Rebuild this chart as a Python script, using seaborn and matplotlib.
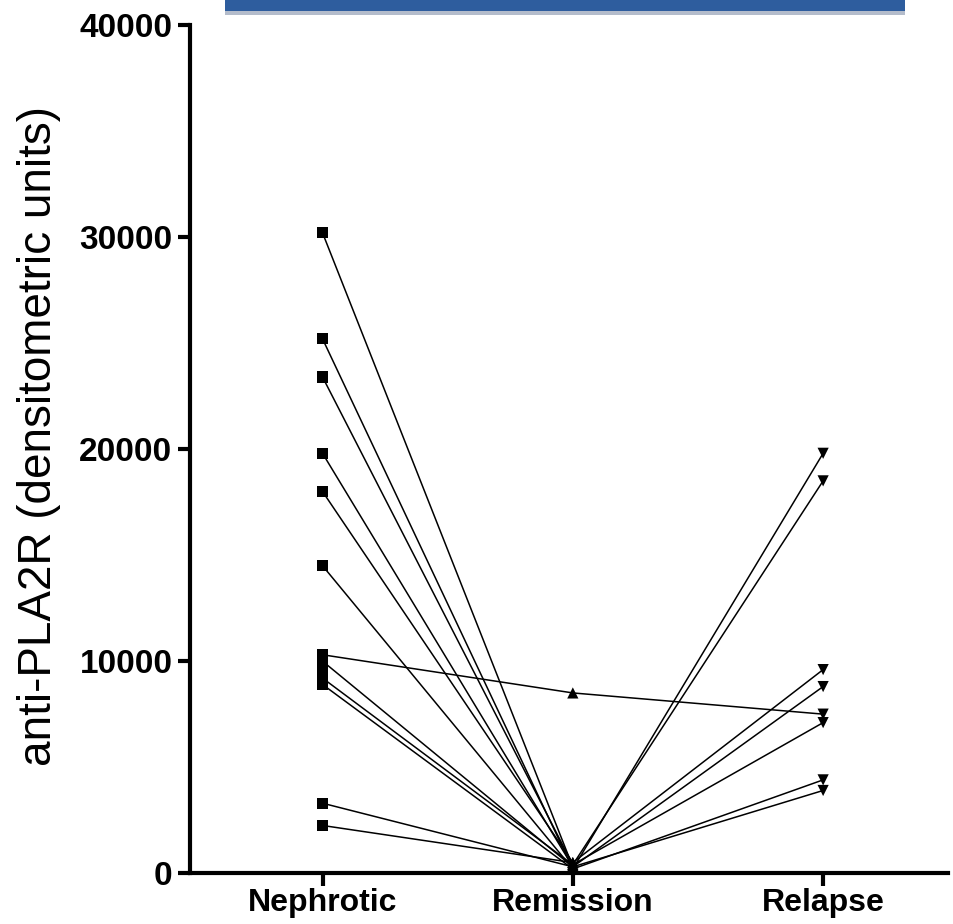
import matplotlib
matplotlib.use("Agg")
import matplotlib.pyplot as plt
import numpy as np
import pandas as pd
import seaborn as sns
from matplotlib.patches import Rectangle

stages = ["Nephrotic", "Remission", "Relapse"]
patients = list(range(1, 14))
nephrotic = [30200, 25200, 23400, 19800, 18000, 14500, 10300, 10000, 9600, 9200, 8900, 3300, 2250]
remission = [300, 200, 400, 300, 500, 200, 8500, 300, np.nan, 400, 200, 300, 500]
relapse = [np.nan, 19800, 18500, np.nan, 9600, np.nan, 7500, 8800, np.nan, 7100, 4400, 3900, np.nan]

rows = []
for i, p in enumerate(patients):
    for st, vals in zip(stages, [nephrotic, remission, relapse]):
        rows.append({"patient": p, "stage": st, "value": vals[i]})
df = pd.DataFrame(rows)

sns.set_style("ticks", {"axes.edgecolor": "black", "xtick.color": "black",
                        "ytick.color": "black", "text.color": "black",
                        "axes.labelcolor": "black"})
plt.rcParams['font.family'] = ['Liberation Sans', 'DejaVu Sans']

fig = plt.figure(figsize=(9.54, 9.24), dpi=100)
ax = fig.add_axes([0.199, 0.055, 0.795, 0.918])

# one line per patient
for p in patients:
    sub = df[df["patient"] == p].dropna()
    if len(sub) > 1:
        ax.plot(sub["stage"], sub["value"], color="black", lw=1.1, zorder=2)

sns.scatterplot(data=df.dropna(), x="stage", y="value", style="stage",
                markers={"Nephrotic": "s", "Remission": "^", "Relapse": "v"},
                color="black", s=65, edgecolor="black", linewidth=0,
                legend=False, ax=ax, zorder=3, clip_on=False)

ax.set_xlim(-0.53, 2.5)
ax.set_ylim(0, 40000)
ax.set_yticks([0, 10000, 20000, 30000, 40000])
ax.set_xlabel("")
ax.set_ylabel("anti-PLA2R (densitometric units)", fontsize=33, color="black")
ax.yaxis.set_label_coords(-0.17, 0.515)

for s in ["top", "right"]:
    ax.spines[s].set_visible(False)
for s in ["left", "bottom"]:
    ax.spines[s].set_linewidth(3)
    ax.spines[s].set_color("black")
ax.tick_params(axis="both", width=3, length=9, labelsize=24, colors="black")
ax.tick_params(axis="x", labelsize=23, pad=2)
for lab in ax.get_xticklabels() + ax.get_yticklabels():
    lab.set_fontweight("bold")

# blue banner at the top
fig.patches.append(Rectangle((225 / 954, 1 - 15 / 924), 680 / 954, 17 / 924,
                             transform=fig.transFigure, facecolor="#b4bccb",
                             edgecolor="none", zorder=0))
fig.patches.append(Rectangle((225 / 954, 1 - 11 / 924), 680 / 954, 13 / 924,
                             transform=fig.transFigure, facecolor="#2e5d9e",
                             edgecolor="none", zorder=1))

fig.savefig("out.png", dpi=100)
